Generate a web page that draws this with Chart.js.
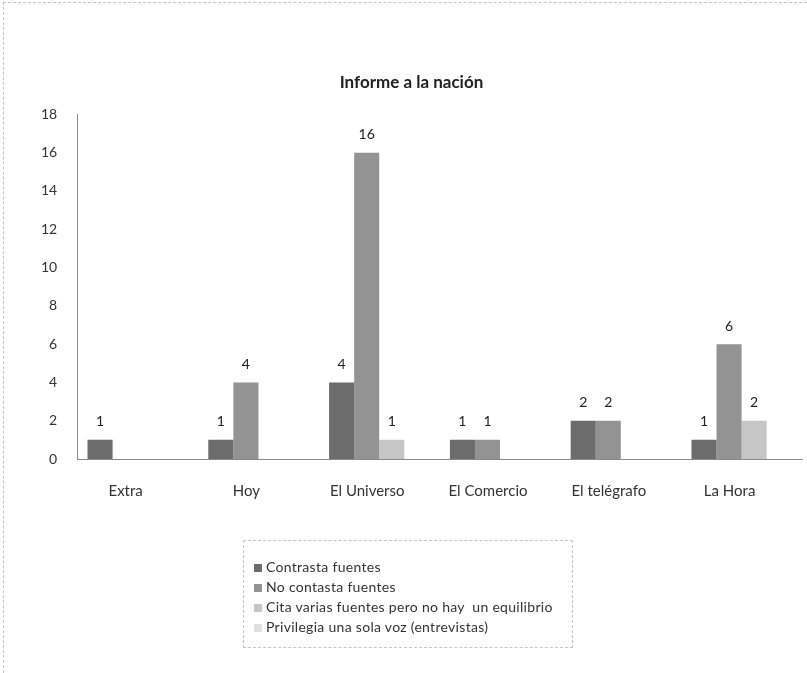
<!DOCTYPE html>
<html>
<head>
<meta charset="utf-8">
<script src="https://cdn.jsdelivr.net/npm/chart.js@4/dist/chart.umd.min.js"></script>
<style>
  html, body { margin: 0; padding: 0; background: #fff; }
  #wrap { position: relative; width: 807px; height: 673px; }
  #frame { position: absolute; left: 3px; top: 2px; right: 0; bottom: 0; border-left: 1px dashed #c4c4c4; border-top: 1px dashed #c4c4c4; }
  #legend { position: absolute; left: 243px; top: 540px; width: 330px; height: 108px; box-sizing: border-box;
            border: 1px dashed #c4c4c4; padding: 16px 0 0 10px; font-family: Lato, sans-serif; font-size: 14px;
            letter-spacing: 0.3px; color: #333; }
  #legend div { height: 20px; line-height: 20px; white-space: pre; }
  #legend span { display: inline-block; width: 8px; height: 8px; margin-right: 4px; }
  canvas { position: absolute; left: 0; top: 0; }
</style>
</head>
<body>
<div id="wrap">
  <div id="frame"></div>
  <canvas id="chart" width="807" height="673"></canvas>
  <div id="legend"></div>
</div>
<script>
const categories = ['Extra', 'Hoy', 'El Universo', 'El Comercio', 'El telégrafo', 'La Hora'];
const seriesNames = [
  'Contrasta fuentes',
  'No contasta fuentes',
  'Cita varias fuentes pero no hay  un equilibrio',
  'Privilegia una sola voz (entrevistas)'
];
const contrasta = [1, 1, 4, 1, 2, 1];
const noContrasta = [null, 4, 16, 1, 2, 6];
const citaVarias = [null, null, 1, null, null, 2];
const privilegia = [null, null, null, null, null, null];
const yTicks = [0, 2, 4, 6, 8, 10, 12, 14, 16, 18];

const colors = ['#6c6c6c', '#939393', '#c6c6c6', '#e0e0e0'];
const seriesValues = [contrasta, noContrasta, citaVarias, privilegia];

// numbers above each bar
const valueLabels = {
  id: 'valueLabels',
  afterDatasetsDraw(chart) {
    const ctx = chart.ctx;
    ctx.save();
    ctx.font = '14px Lato';
    ctx.fillStyle = '#222';
    ctx.textAlign = 'center';
    ctx.textBaseline = 'bottom';
    chart.data.datasets.forEach((ds, i) => {
      chart.getDatasetMeta(i).data.forEach((bar, j) => {
        const v = ds.data[j];
        if (v == null) return;
        ctx.fillText(String(v), bar.x, bar.y - 11);
      });
    });
    ctx.restore();
  }
};

const chart = new Chart(document.getElementById('chart'), {
  type: 'bar',
  data: {
    labels: categories,
    datasets: seriesNames.map((name, i) => ({
      label: name,
      data: seriesValues[i],
      backgroundColor: colors[i],
      borderWidth: 0,
      barPercentage: 1,
      categoryPercentage: 0.83
    }))
  },
  options: {
    responsive: false,
    animation: false,
    layout: { padding: { left: 21, right: 5, top: 0, bottom: 150 } },
    plugins: {
      legend: { display: false },
      tooltip: { enabled: false },
      title: {
        display: true,
        text: 'Informe a la nación',
        color: '#222',
        font: { family: 'Lato', size: 17, weight: 'bold' },
        padding: { top: 72, bottom: 22 }
      }
    },
    scales: {
      x: {
        grid: { display: false, drawTicks: false },
        border: { color: '#8a8a8a', width: 1 },
        ticks: { color: '#333', font: { family: 'Lato', size: 15 }, padding: 23, labelOffset: -12 }
      },
      y: {
        min: 0,
        max: 18,
        afterBuildTicks: (scale) => { scale.ticks = yTicks.map(v => ({ value: v })); },
        grid: { display: false, drawTicks: false },
        border: { color: '#8a8a8a', width: 1 },
        ticks: { color: '#333', font: { family: 'Lato', size: 14 }, padding: 20 }
      }
    }
  },
  plugins: [valueLabels]
});

const legend = document.getElementById('legend');
chart.data.datasets.forEach(ds => {
  const row = document.createElement('div');
  const box = document.createElement('span');
  box.style.background = ds.backgroundColor;
  row.appendChild(box);
  row.appendChild(document.createTextNode(ds.label));
  legend.appendChild(row);
});
</script>
</body>
</html>
